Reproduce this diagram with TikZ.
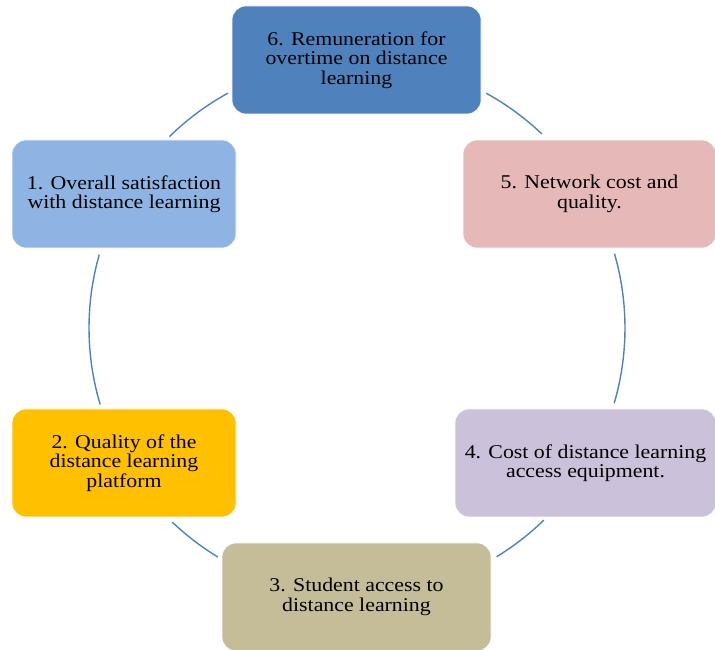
\documentclass[tikz,border=0pt]{standalone}
\usepackage{fontspec}
\setmainfont{Liberation Serif}[FakeStretch=1.12]
\definecolor{c6}{HTML}{4F81BD}
\definecolor{c1}{HTML}{8EB4E3}
\definecolor{c5}{HTML}{E6B9B8}
\definecolor{c4}{HTML}{CCC1DA}
\definecolor{c3}{HTML}{C4BD97}
\definecolor{c2}{HTML}{FFC000}
\definecolor{arcc}{HTML}{4F81BD}
\begin{document}
\begin{tikzpicture}[x=1pt,y=1pt,
  box/.style={rounded corners=14pt, draw=white, line width=0.6pt, inner sep=0pt,
    align=center, font=\fontsize{19.5}{19.5}\selectfont, text=black},
  link/.style={draw=arcc, line width=1.4pt}]
\useasboundingbox (0,0) rectangle (715,650);
\coordinate (c) at (357,322);
\node[box, fill=c6, minimum width=249pt, minimum height=108pt] (n6) at (356.5,590) {6. Remuneration for\\overtime on distance\\learning};
\node[box, fill=c1, minimum width=224pt, minimum height=108pt] (n1) at (124,456) {1. Overall satisfaction\\with distance learning};
\node[box, fill=c5, minimum width=253pt, minimum height=108pt] (n5) at (589.5,456) {5. Network cost and\\quality.};
\node[box, fill=c4, minimum width=261pt, minimum height=108pt] (n4) at (585.5,187) {4. Cost of distance learning\\access equipment.};
\node[box, fill=c3, minimum width=269pt, minimum height=108pt] (n3) at (356.5,53) {3. Student access to\\distance learning};
\node[box, fill=c2, minimum width=224pt, minimum height=108pt] (n2) at (124,187) {2. Quality of the\\distance learning\\platform};
\draw[link] ([shift={(118.8:268)}]c) arc[start angle=118.8, end angle=134.4, radius=268];
\draw[link] ([shift={(164.1:268)}]c) arc[start angle=164.1, end angle=196.6, radius=268];
\draw[link] ([shift={(226.4:268)}]c) arc[start angle=226.4, end angle=238.7, radius=268];
\draw[link] ([shift={(-58.6:268)}]c) arc[start angle=-58.6, end angle=-45.8, radius=268];
\draw[link] ([shift={(-16.3:268)}]c) arc[start angle=-16.3, end angle=16.1, radius=268];
\draw[link] ([shift={(46.4:268)}]c) arc[start angle=46.4, end angle=61.2, radius=268];
\end{tikzpicture}
\end{document}
